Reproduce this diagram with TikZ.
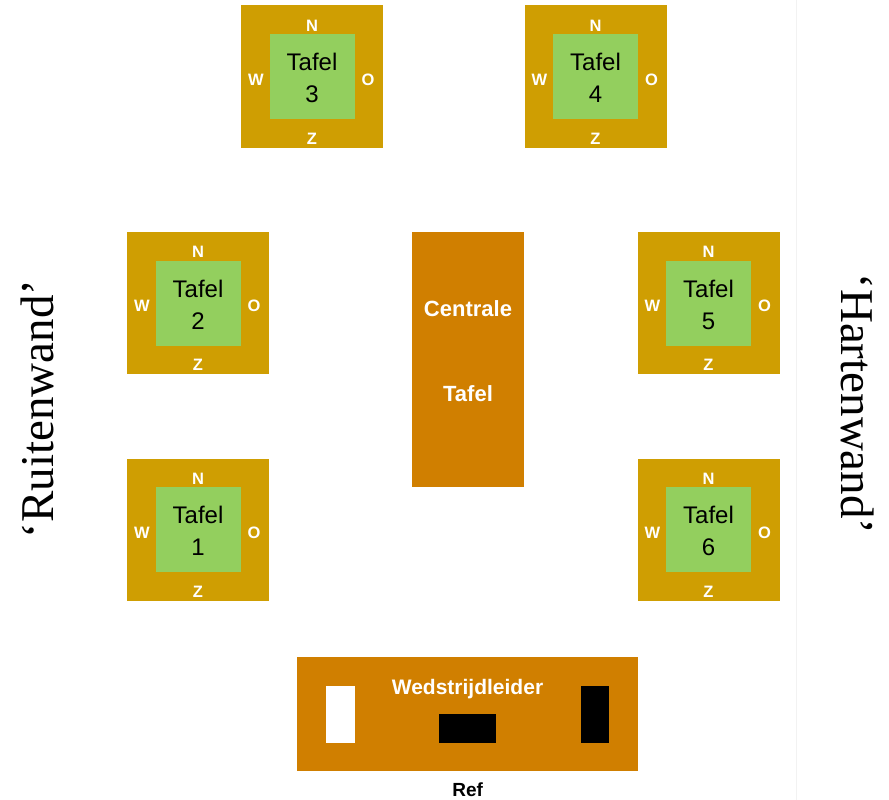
\documentclass[tikz,border=0pt]{standalone}
\usepackage{fontspec}
\setmainfont{Liberation Sans}
\newfontfamily\wallfont{Liberation Serif}
\definecolor{gold}{RGB}{207,158,2}
\definecolor{tgreen}{RGB}{147,207,94}
\definecolor{torange}{RGB}{208,127,0}
\newcommand\tafelunit[4]{%
  \node[outerbox] (#1) at (#2,#3) {};
  \node[innerbox] (#1g) at (#2,#3) {};
  \node[dirlbl] (#1n) at (#2,{#3-51}) {N};
  \node[dirlbl] (#1z) at (#2,{#3+62}) {Z};
  \node[dirlbl] (#1w) at ({#2-56},{#3+3}) {W};
  \node[dirlbl] (#1o) at ({#2+56},{#3+3}) {O};
  \node[tbltxt] (#1t) at (#2,{#3-5.7}) {Tafel};
  \node[tbltxt] (#1d) at (#2,{#3+26}) {#4};
}
\begin{document}
\begin{tikzpicture}[x=1pt,y=-1pt,
  outerbox/.style={fill=gold, minimum size=142pt, inner sep=0pt, draw=none},
  innerbox/.style={fill=tgreen, minimum size=85pt, inner sep=0pt, draw=none},
  dirlbl/.style={text=white, font=\fontsize{16.5}{16.5}\selectfont\bfseries, inner sep=0pt},
  tbltxt/.style={font=\fontsize{24}{24}\selectfont, anchor=base, inner sep=0pt},
  whitebold/.style={text=white, font=\fontsize{22}{22}\selectfont\bfseries, inner sep=0pt},
  walltxt/.style={font=\wallfont\fontsize{47}{47}\selectfont, anchor=base, inner sep=0pt}]
\path[use as bounding box] (0,0) rectangle (889,800);
\draw[black!5] (796,0) -- (796,800);
\tafelunit{t3}{312}{76.5}{3}
\tafelunit{t4}{595.5}{76.5}{4}
\tafelunit{t2}{198}{303}{2}
\tafelunit{t5}{708.5}{303}{5}
\tafelunit{t1}{198}{529.5}{1}
\tafelunit{t6}{708.5}{529.5}{6}
% central table
\node[fill=torange, minimum width=112pt, minimum height=255pt, inner sep=0pt] (central) at (468,359.75) {};
\node[whitebold] (centr) at (468,309) {Centrale};
\node[whitebold] (centt) at (468,394) {Tafel};
% referee table
\node[fill=torange, minimum width=341pt, minimum height=113.5pt, inner sep=0pt] (ref) at (467.75,714) {};
\node[fill=white, minimum width=29pt, minimum height=57.3pt, inner sep=0pt] (wbox) at (340.2,714.65) {};
\node[fill=black, minimum width=57pt, minimum height=29pt, inner sep=0pt] (cbox) at (467.8,728.8) {};
\node[fill=black, minimum width=28.3pt, minimum height=57.3pt, inner sep=0pt] (rbox) at (595.15,714.65) {};
\node[text=white, font=\fontsize{21}{21}\selectfont\bfseries, anchor=base, inner sep=0pt] (wl) at (467.5,694.3) {Wedstrijdleider};
\node[font=\fontsize{19}{19}\selectfont\bfseries, anchor=base, inner sep=0pt] (reftxt) at (467.7,796.7) {Ref};
% walls
\node[walltxt, rotate=90] (ruit) at (53,409) {‘Ruitenwand’};
\node[walltxt, rotate=-90] (hart) at (841,404) {‘Hartenwand’};
\end{tikzpicture}
\end{document}
